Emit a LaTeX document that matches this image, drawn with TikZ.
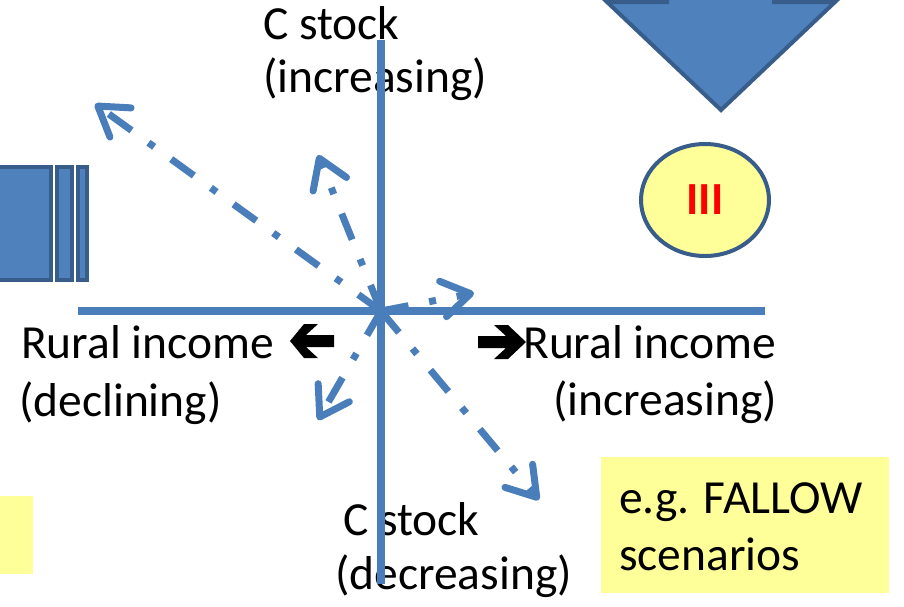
\documentclass[tikz,border=0pt]{standalone}
\usepackage{fontspec}
\setmainfont{Carlito}
\usetikzlibrary{arrows.meta,shapes.geometric}
\definecolor{axisblue}{HTML}{4A7EBB}
\definecolor{shapefill}{HTML}{4F81BD}
\definecolor{shapeline}{HTML}{385D8A}
\definecolor{noteyellow}{HTML}{FFFF99}
\begin{document}
\begin{tikzpicture}[x=1pt,y=-1pt,
  lbl/.style={anchor=base west, inner sep=0pt, font=\fontsize{47.5}{54}\selectfont},
  axisline/.style={draw=axisblue, line width=7.5pt},
  trend/.style={draw=axisblue, line width=7pt,
    dash pattern=on 28pt off 21pt on 7pt off 21pt,
    -{Straight Barb[length=28pt,width=36pt,round]}},
  solidshape/.style={fill=shapefill, draw=shapeline, line width=4pt},
  chevron/.style={fill=black, draw=none}]
\useasboundingbox (0,0) rectangle (904,606);
\clip (0,0) rectangle (904,606);

% partial shapes at the edges
\draw[solidshape] (-10,167) rectangle (51,280);
\draw[solidshape] (57,167) rectangle (72,280);
\draw[solidshape] (78,167) rectangle (87,280);
\draw[solidshape, line join=miter] (667,-20) -- (667,2) -- (607,2) -- (721,110)
  -- (835,2) -- (774,2) -- (774,-20);
\fill[noteyellow] (-10,496) rectangle (33,574);

% scenario marker
\node[ellipse, fill=noteyellow, draw=shapeline, line width=4pt,
  minimum width=128pt, minimum height=112pt, inner sep=0pt,
  text=red, font=\fontsize{46}{52}\selectfont\bfseries] (iii) at (705,200) {III};

% note box
\node[fill=noteyellow, minimum width=288pt, minimum height=136pt, inner sep=0pt,
  anchor=north west] (note) at (601,457) {};
\node[lbl] (note1) at (619,513) {e.g. FALLOW};
\node[lbl] (note2) at (619,570) {scenarios};

% axis labels
\node[lbl] (cup1) at (263,39) {C stock};
\node[lbl] (cup2) at (263,92) {(increasing)};
\node[lbl] (cdn1) at (343,535) {C stock};
\node[lbl] (cdn2) at (335,589) {(decreasing)};
\node[lbl] (rl1) at (21,358) {Rural income};
\node[lbl] (rl2) at (19,416) {(declining)};
\node[lbl] (rr1) at (523,358) {Rural income};
\node[lbl] (rr2) at (553,415) {(increasing)};

% direction chevrons beside the income labels
\fill[chevron] (334,335) -- (306,335) -- (318,324) -- (304,324) -- (290,341)
  -- (304,358) -- (318,358) -- (306,347) -- (334,347) -- cycle;
\fill[chevron] (478,336) -- (506,336) -- (494,325) -- (508,325) -- (526,342)
  -- (508,359) -- (494,359) -- (506,348) -- (478,348) -- cycle;

% axes
\coordinate (O) at (381,311);
\coordinate (top) at (381,40);
\coordinate (bot) at (381,584);
\coordinate (lft) at (78,311);
\coordinate (rgt) at (765,311);
\draw[axisline] (top) -- (bot);
\draw[axisline] (lft) -- (rgt);

% scenario trends
\coordinate (t1) at (95,104);
\coordinate (t2) at (318,155);
\coordinate (t3) at (474,293);
\coordinate (t4) at (318,420);
\coordinate (t5) at (539,500);
\foreach \t in {t1,t2,t3,t4,t5} \draw[trend] (O) -- (\t);
\end{tikzpicture}
\end{document}
